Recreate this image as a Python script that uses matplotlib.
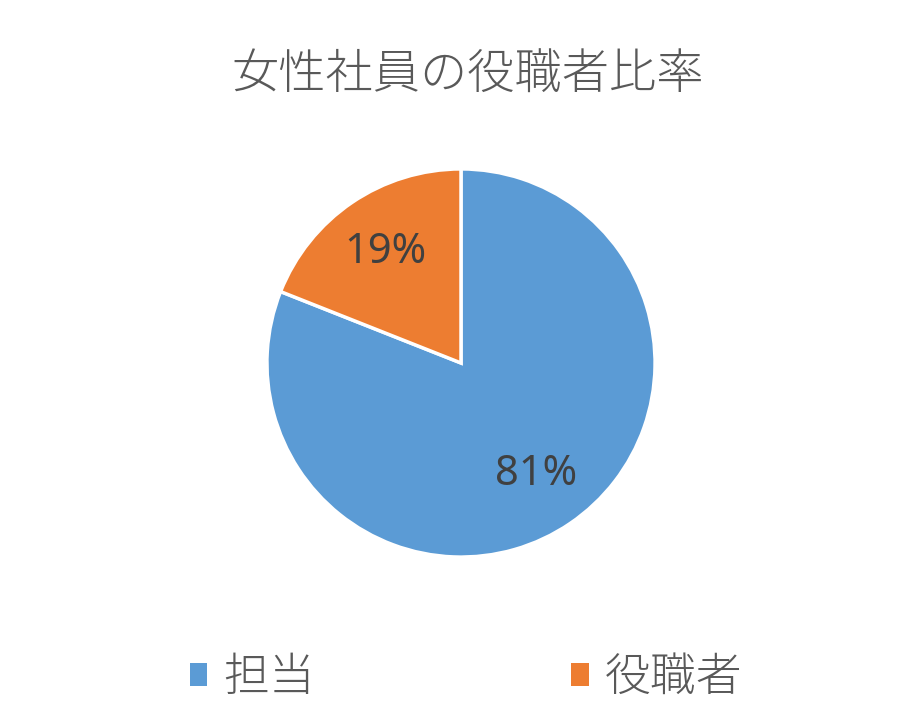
import matplotlib.pyplot as plt
from matplotlib.patches import Patch

plt.rcParams['font.family'] = ['Noto Sans', 'Noto Sans CJK JP', 'DejaVu Sans']

title = "女性社員の役職者比率"
labels = ["担当", "役職者"]
shares = [81, 19]
colors = ["#5B9BD5", "#ED7D31"]

W, H = 922, 714
fig = plt.figure(figsize=(W / 100, H / 100), dpi=100)

# pie axes: centre (461, 363) px, radius 196 px
cx, cy, r = 461, 363, 196
ax = fig.add_axes([(cx - r) / W, (H - cy - r) / H, 2 * r / W, 2 * r / H])
wedges, texts, autotexts = ax.pie(
    shares, colors=colors, startangle=90, counterclock=False,
    autopct="%d%%", pctdistance=0.69,
    wedgeprops=dict(edgecolor="white", linewidth=2.5),
    textprops=dict(fontsize=30, color="#404040"),
)
ax.set_xlim(-1.01, 1.01)
ax.set_ylim(-1.01, 1.01)

cjk = ['Noto Sans CJK JP', 'DejaVu Sans']
fig.text(468 / W, 1 - 75 / H, title, ha="center", va="center",
         fontsize=34, color="#595959", family=cjk, fontweight="light")

handles = [Patch(facecolor=c, edgecolor="none") for c in colors]
leg = fig.legend(handles, labels, loc="center", bbox_to_anchor=(466 / W, 1 - 678 / H),
                 ncol=2, frameon=False,
                 handlelength=0.38, handleheight=0.38, handletextpad=0.35,
                 columnspacing=5.6, prop=dict(family=cjk, size=33, weight="light"))
for t in leg.get_texts():
    t.set_color("#595959")

fig.savefig("out.png", dpi=100, facecolor="white")
